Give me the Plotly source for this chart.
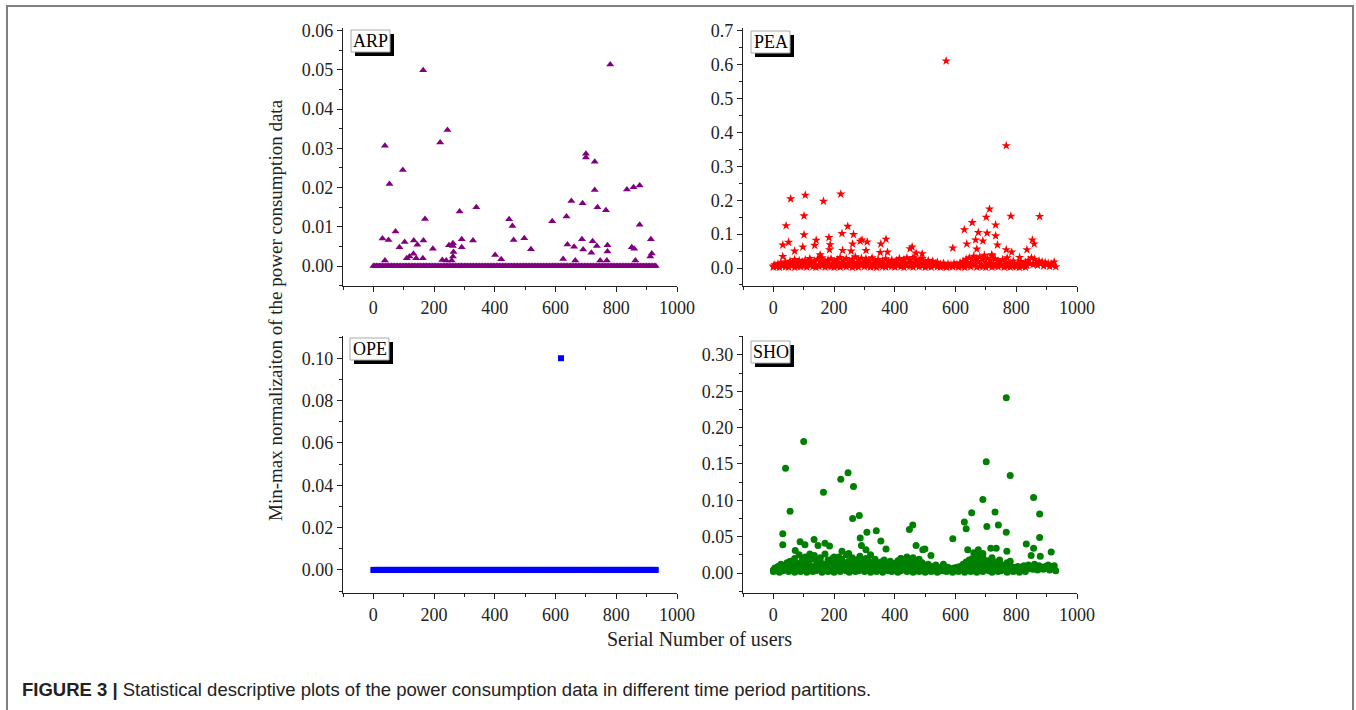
import plotly.graph_objects as go

W, H = 1356, 710

# ---------------- DATA ----------------
# sampled user serial numbers for the dense near-zero band
users = list(range(0, 931, 5))

# ARP (triangles) - dense band at zero + outliers
arp_band = [0, 0, 0, 0, 0, 0, 0, 0, 0, 0, 0, 0, 0, 0, 0, 0, 0, 0, 0, 0,
            0, 0, 0, 0, 0, 0, 0, 0, 0, 0, 0, 0, 0, 0, 0, 0, 0, 0, 0, 0,
            0, 0, 0, 0, 0, 0, 0, 0, 0, 0, 0, 0, 0, 0, 0, 0, 0, 0, 0, 0,
            0, 0, 0, 0, 0, 0, 0, 0, 0, 0, 0, 0, 0, 0, 0, 0, 0, 0, 0, 0,
            0, 0, 0, 0, 0, 0, 0, 0, 0, 0, 0, 0, 0, 0, 0, 0, 0, 0, 0, 0,
            0, 0, 0, 0, 0, 0, 0, 0, 0, 0, 0, 0, 0, 0, 0, 0, 0, 0, 0, 0,
            0, 0, 0, 0, 0, 0, 0, 0, 0, 0, 0, 0, 0, 0, 0, 0, 0, 0, 0, 0,
            0, 0, 0, 0, 0, 0, 0, 0, 0, 0, 0, 0, 0, 0, 0, 0, 0, 0, 0, 0,
            0, 0, 0, 0, 0, 0, 0, 0, 0, 0, 0, 0, 0, 0, 0, 0, 0, 0, 0, 0,
            0, 0, 0, 0, 0, 0, 0]
arp_x = [38, 53, 97, 30, 50, 73, 86, 103, 38, 164, 170, 165, 133, 145, 132, 110, 119, 141,
         163, 196, 220, 244, 284, 291, 291, 249, 262, 262, 264, 262, 258, 227, 240, 339, 328,
         401, 421, 447, 458, 462, 497, 519, 589, 625, 636, 639, 652, 661, 665, 689, 687, 691,
         700, 700, 729, 729, 722, 718, 736, 738, 766, 771, 771, 780, 747, 769, 835, 857, 877,
         877, 851, 859, 863, 914, 917, 912]
arp_y = [0.0307, 0.0209, 0.0245, 0.0070, 0.0066, 0.0088, 0.0048, 0.0061, 0.0014, 0.0499,
         0.0120, 0.0065, 0.0065, 0.0054, 0.0031, 0.0020, 0.0024, 0.0020, 0.0020, 0.0044,
         0.0315, 0.0347, 0.0139, 0.0068, 0.0048, 0.0053, 0.0058, 0.0051, 0.0036, 0.0024,
         0.0014, 0.0015, 0.0014, 0.0150, 0.0065, 0.0028, 0.0017, 0.0119, 0.0102, 0.0066,
         0.0071, 0.0043, 0.0114, 0.0018, 0.0126, 0.0055, 0.0166, 0.0049, 0.0014, 0.0160,
         0.0068, 0.0042, 0.0286, 0.0277, 0.0266, 0.0194, 0.0063, 0.0034, 0.0051, 0.0150,
         0.0142, 0.0053, 0.0037, 0.0514, 0.0014, 0.0014, 0.0195, 0.0201, 0.0205, 0.0105,
         0.0048, 0.0044, 0.0014, 0.0068, 0.0032, 0.0024]

# PEA (stars)
pea_band = [0.006, 0.010, 0.004, 0.012, 0.008, 0.015, 0.006, 0.011, 0.018, 0.009,
            0.012, 0.020, 0.007, 0.016, 0.025, 0.010, 0.014, 0.022, 0.008, 0.017,
            0.013, 0.024, 0.009, 0.019, 0.028, 0.011, 0.015, 0.021, 0.007, 0.026,
            0.010, 0.018, 0.030, 0.012, 0.020, 0.008, 0.024, 0.014, 0.027, 0.011,
            0.019, 0.009, 0.025, 0.016, 0.031, 0.012, 0.022, 0.008, 0.028, 0.015,
            0.020, 0.011, 0.026, 0.017, 0.033, 0.010, 0.024, 0.014, 0.029, 0.018,
            0.012, 0.027, 0.016, 0.022, 0.009, 0.030, 0.014, 0.019, 0.010, 0.025,
            0.015, 0.008, 0.021, 0.012, 0.027, 0.010, 0.018, 0.013, 0.024, 0.009,
            0.016, 0.022, 0.011, 0.028, 0.014, 0.019, 0.025, 0.012, 0.030, 0.017,
            0.023, 0.013, 0.031, 0.018, 0.026, 0.011, 0.021, 0.015, 0.028, 0.010,
            0.018, 0.012, 0.022, 0.009, 0.015, 0.020, 0.008, 0.013, 0.017, 0.007,
            0.011, 0.006, 0.014, 0.009, 0.005, 0.012, 0.007, 0.010, 0.006, 0.013,
            0.008, 0.011, 0.006, 0.015, 0.009, 0.020, 0.012, 0.026, 0.016, 0.030,
            0.014, 0.024, 0.035, 0.012, 0.028, 0.019, 0.033, 0.010, 0.025, 0.038,
            0.015, 0.029, 0.011, 0.022, 0.036, 0.013, 0.027, 0.009, 0.020, 0.016,
            0.012, 0.025, 0.008, 0.018, 0.030, 0.010, 0.015, 0.006, 0.021, 0.011,
            0.007, 0.014, 0.009, 0.019, 0.005, 0.012, 0.017, 0.008, 0.023, 0.013,
            0.030, 0.010, 0.026, 0.015, 0.008, 0.021, 0.012, 0.018, 0.006, 0.016,
            0.009, 0.014, 0.005, 0.012, 0.008, 0.018, 0.004]
pea_low = [0.003, 0.005, 0.002, 0.006, 0.004, 0.003, 0.007, 0.002, 0.005, 0.004,
           0.006, 0.003, 0.008, 0.004, 0.002, 0.005, 0.007, 0.003, 0.006, 0.004,
           0.002, 0.005, 0.003, 0.007, 0.004, 0.006, 0.002, 0.005, 0.003, 0.008,
           0.004, 0.006, 0.003, 0.005, 0.002, 0.007, 0.004, 0.003, 0.006, 0.005,
           0.003, 0.007, 0.004, 0.002, 0.006, 0.005, 0.003, 0.008, 0.004, 0.006,
           0.002, 0.005, 0.003, 0.007, 0.004, 0.003, 0.006, 0.002, 0.005, 0.004,
           0.007, 0.003, 0.005, 0.002, 0.006, 0.004, 0.008, 0.003, 0.005, 0.004,
           0.002, 0.006, 0.003, 0.005, 0.004, 0.007, 0.002, 0.005, 0.003, 0.006,
           0.004, 0.002, 0.005, 0.003]
pea_x = [569, 767, 57, 105, 165, 222, 42, 101, 101, 31, 31, 50, 70, 97, 141, 136, 154, 183,
         187, 185, 226, 228, 245, 264, 261, 256, 286, 292, 309, 305, 354, 352, 371, 376, 450,
         457, 470, 490, 591, 629, 655, 637, 675, 690, 666, 670, 712, 701, 704, 732, 732, 738,
         782, 767, 785, 877, 853, 859, 835, 811, 719]
pea_y = [0.611, 0.361, 0.204, 0.215, 0.197, 0.218, 0.125, 0.154, 0.098, 0.068, 0.034, 0.076,
         0.050, 0.062, 0.082, 0.067, 0.039, 0.090, 0.069, 0.054, 0.102, 0.052, 0.123, 0.099,
         0.071, 0.050, 0.079, 0.083, 0.077, 0.052, 0.071, 0.046, 0.085, 0.047, 0.057, 0.062,
         0.044, 0.042, 0.059, 0.113, 0.134, 0.071, 0.105, 0.080, 0.083, 0.056, 0.174, 0.150,
         0.103, 0.127, 0.095, 0.068, 0.153, 0.054, 0.047, 0.152, 0.083, 0.071, 0.054, 0.031,
         0.039]

# OPE (squares)
ope_band = [0, 0, 0, 0, 0, 0, 0, 0, 0, 0, 0, 0, 0, 0, 0, 0, 0, 0, 0, 0,
            0, 0, 0, 0, 0, 0, 0, 0, 0, 0, 0, 0, 0, 0, 0, 0, 0, 0, 0, 0,
            0, 0, 0, 0, 0, 0, 0, 0, 0, 0, 0, 0, 0, 0, 0, 0, 0, 0, 0, 0,
            0, 0, 0, 0, 0, 0, 0, 0, 0, 0, 0, 0, 0, 0, 0, 0, 0, 0, 0, 0,
            0, 0, 0, 0, 0, 0, 0, 0, 0, 0, 0, 0, 0, 0, 0, 0, 0, 0, 0, 0,
            0, 0, 0, 0, 0, 0, 0, 0, 0, 0, 0, 0, 0, 0, 0, 0, 0, 0, 0, 0,
            0, 0, 0, 0, 0, 0, 0, 0, 0, 0, 0, 0, 0, 0, 0, 0, 0, 0, 0, 0,
            0, 0, 0, 0, 0, 0, 0, 0, 0, 0, 0, 0, 0, 0, 0, 0, 0, 0, 0, 0,
            0, 0, 0, 0, 0, 0, 0, 0, 0, 0, 0, 0, 0, 0, 0, 0, 0, 0, 0, 0,
            0, 0, 0, 0, 0, 0, 0]
ope_x = [618]
ope_y = [0.100]

# SHO (circles)
sho_band = [0.004, 0.007, 0.003, 0.009, 0.005, 0.012, 0.006, 0.010, 0.004, 0.014,
            0.008, 0.016, 0.005, 0.011, 0.020, 0.007, 0.013, 0.025, 0.009, 0.018,
            0.012, 0.022, 0.006, 0.015, 0.010, 0.019, 0.008, 0.024, 0.011, 0.017,
            0.007, 0.021, 0.013, 0.009, 0.026, 0.012, 0.018, 0.006, 0.015, 0.020,
            0.010, 0.016, 0.008, 0.022, 0.012, 0.019, 0.007, 0.014, 0.025, 0.011,
            0.017, 0.009, 0.021, 0.013, 0.008, 0.018, 0.011, 0.023, 0.007, 0.015,
            0.012, 0.020, 0.008, 0.016, 0.010, 0.014, 0.006, 0.019, 0.009, 0.013,
            0.007, 0.015, 0.011, 0.018, 0.006, 0.012, 0.009, 0.016, 0.005, 0.010,
            0.013, 0.008, 0.017, 0.011, 0.020, 0.007, 0.015, 0.010, 0.022, 0.012,
            0.018, 0.009, 0.021, 0.013, 0.016, 0.008, 0.019, 0.011, 0.014, 0.007,
            0.010, 0.005, 0.012, 0.008, 0.004, 0.009, 0.006, 0.011, 0.005, 0.008,
            0.004, 0.007, 0.003, 0.006, 0.005, 0.008, 0.004, 0.006, 0.003, 0.007,
            0.005, 0.008, 0.004, 0.009, 0.006, 0.012, 0.008, 0.015, 0.010, 0.018,
            0.012, 0.020, 0.009, 0.016, 0.024, 0.011, 0.019, 0.008, 0.022, 0.014,
            0.010, 0.017, 0.007, 0.013, 0.021, 0.009, 0.015, 0.006, 0.012, 0.018,
            0.008, 0.011, 0.005, 0.009, 0.014, 0.006, 0.010, 0.004, 0.008, 0.006,
            0.005, 0.009, 0.004, 0.008, 0.006, 0.010, 0.005, 0.007, 0.011, 0.006,
            0.009, 0.005, 0.012, 0.007, 0.004, 0.010, 0.006, 0.008, 0.005, 0.009,
            0.007, 0.011, 0.004, 0.009, 0.006, 0.010, 0.003]
sho_low = [0.002, 0.004, 0.001, 0.003, 0.005, 0.002, 0.004, 0.001, 0.003, 0.002,
           0.005, 0.001, 0.004, 0.002, 0.003, 0.005, 0.001, 0.004, 0.002, 0.003,
           0.001, 0.004, 0.002, 0.005, 0.003, 0.001, 0.004, 0.002, 0.003, 0.005,
           0.002, 0.004, 0.001, 0.003, 0.002, 0.005, 0.001, 0.004, 0.003, 0.002,
           0.004, 0.001, 0.003, 0.005, 0.002, 0.004, 0.001, 0.003, 0.002, 0.004,
           0.001, 0.003, 0.002, 0.004, 0.001, 0.003, 0.005, 0.002, 0.004, 0.001,
           0.003, 0.002, 0.005, 0.001, 0.004, 0.002, 0.003, 0.001, 0.004, 0.002,
           0.005, 0.003, 0.001, 0.004, 0.002, 0.003, 0.005, 0.001, 0.004, 0.002,
           0.003, 0.001, 0.004, 0.002]
sho_x = [767, 100, 40, 55, 31, 31, 165, 222, 246, 264, 261, 283, 286, 290, 308, 305, 339,
         354, 371, 72, 88, 104, 134, 147, 170, 185, 226, 248, 448, 459, 470, 492, 499, 519,
         591, 629, 635, 653, 640, 675, 690, 701, 703, 730, 741, 767, 769, 780, 780, 716, 734,
         833, 857, 857, 849, 877, 877, 879, 915, 120, 200, 320, 420, 560, 660, 690]
sho_y = [0.241, 0.181, 0.144, 0.085, 0.054, 0.039, 0.111, 0.129, 0.138, 0.119, 0.075, 0.079,
         0.048, 0.038, 0.056, 0.032, 0.058, 0.044, 0.033, 0.031, 0.043, 0.039, 0.046, 0.038,
         0.041, 0.037, 0.030, 0.027, 0.060, 0.066, 0.038, 0.032, 0.033, 0.024, 0.047, 0.070,
         0.061, 0.083, 0.032, 0.032, 0.101, 0.153, 0.064, 0.084, 0.066, 0.056, 0.030, 0.134,
         0.016, 0.034, 0.034, 0.040, 0.104, 0.034, 0.024, 0.081, 0.049, 0.023, 0.029, 0.026,
         0.022, 0.025, 0.020, 0.012, 0.028, 0.027]

panel_labels = ["ARP", "PEA", "OPE", "SHO"]
y_title = "Min-max normalizaiton of the power consumption data"
x_title = "Serial Number of users"
caption_bold = "FIGURE 3 |"
caption_text = "Statistical descriptive plots of the power consumption data in different time period partitions."

# ---------------- LAYOUT HELPERS ----------------
def fx(p):
    return p / W

def fy(p):
    return 1 - p / H

SERIF = "Liberation Serif, Times New Roman, serif"
left_dom = [fx(343), fx(677)]
right_dom = [fx(743), fx(1077)]
top_dom = [fy(286), fy(28)]
bot_dom = [fy(593), fy(336)]

fig = go.Figure()

def add(xs, ys, axn, symbol, color, size):
    fig.add_trace(go.Scatter(
        x=xs, y=ys, mode="markers", xaxis="x" + axn, yaxis="y" + axn,
        marker=dict(symbol=symbol, color=color, size=size, line=dict(width=0)),
        showlegend=False, hoverinfo="x+y"))

users_half = users[::2]
add(users, arp_band, "", "triangle-up", "#800080", 7)
add(arp_x, arp_y, "", "triangle-up", "#800080", 7)
add(users_half, pea_low, "2", "star", "#ff0000", 7)
add(users, pea_band, "2", "star", "#ff0000", 7)
add(pea_x, pea_y, "2", "star", "#ff0000", 7)
add(users, ope_band, "3", "square", "#0000ff", 6)
add(ope_x, ope_y, "3", "square", "#0000ff", 6)
add(users_half, sho_low, "4", "circle", "#008000", 7)
add(users, sho_band, "4", "circle", "#008000", 7)
add(sho_x, sho_y, "4", "circle", "#008000", 7)

tickfont = dict(family=SERIF, size=18, color="#222")

def xax(dom, anchor):
    return dict(domain=dom, anchor=anchor, range=[-100, 1000], dtick=200, tick0=0,
                showline=True, linecolor="#222", linewidth=1.2, ticks="outside",
                ticklen=5, tickwidth=1.2, tickcolor="#222", showgrid=False, zeroline=False,
                tickfont=tickfont, automargin=False,
                minor=dict(ticks="outside", ticklen=3, dtick=100, tick0=0, tickcolor="#222"))

def yax(dom, anchor, rng, dtick, fmt):
    return dict(domain=dom, anchor=anchor, range=rng, dtick=dtick, tick0=0,
                tickformat=fmt, showline=True, linecolor="#222", linewidth=1.2,
                ticks="outside", ticklen=5, tickwidth=1.2, tickcolor="#222",
                showgrid=False, zeroline=False, tickfont=tickfont, automargin=False,
                minor=dict(ticks="outside", ticklen=3, dtick=dtick / 2, tick0=0,
                           tickcolor="#222"))

fig.update_layout(
    width=W, height=H, autosize=False,
    margin=dict(l=0, r=0, t=0, b=0, pad=0, autoexpand=False),
    paper_bgcolor="white", plot_bgcolor="white",
    xaxis=xax(left_dom, "y"), yaxis=yax(top_dom, "x", [-0.0051, 0.0607], 0.01, ".2f"),
    xaxis2=xax(right_dom, "y2"), yaxis2=yax(top_dom, "x2", [-0.053, 0.708], 0.1, ".1f"),
    xaxis3=xax(left_dom, "y3"), yaxis3=yax(bot_dom, "x3", [-0.0109, 0.1105], 0.02, ".2f"),
    xaxis4=xax(right_dom, "y4"), yaxis4=yax(bot_dom, "x4", [-0.0275, 0.326], 0.05, ".2f"),
)

shapes = []
annotations = []
# outer frame
shapes.append(dict(type="rect", xref="paper", yref="paper", x0=fx(7), x1=fx(1353),
                   y0=fy(720), y1=fy(6), line=dict(color="#808080", width=2),
                   fillcolor="rgba(0,0,0,0)", layer="below"))

# panel label boxes (left px, top px)
box_pos = [(351, 30), (751, 31), (350, 338), (751, 341)]
for (bx, by), lab in zip(box_pos, panel_labels):
    bw, bh = 39, 22
    shapes.append(dict(type="rect", xref="paper", yref="paper",
                       x0=fx(bx + 4), x1=fx(bx + bw + 4), y0=fy(by + bh + 4), y1=fy(by + 4),
                       fillcolor="black", line=dict(width=0), layer="above"))
    shapes.append(dict(type="rect", xref="paper", yref="paper",
                       x0=fx(bx), x1=fx(bx + bw), y0=fy(by + bh), y1=fy(by),
                       fillcolor="white", line=dict(color="#aaaaaa", width=1), layer="above"))
    annotations.append(dict(xref="paper", yref="paper", x=fx(bx + bw / 2), y=fy(by + bh / 2),
                            text=lab, showarrow=False, xanchor="center", yanchor="middle",
                            font=dict(family=SERIF, size=18, color="black")))

annotations.append(dict(xref="paper", yref="paper", x=fx(275), y=fy(310), text=y_title,
                        textangle=-90, showarrow=False, xanchor="center", yanchor="middle",
                        font=dict(family=SERIF, size=19, color="#222")))
annotations.append(dict(xref="paper", yref="paper", x=fx(700), y=fy(639), text=x_title,
                        showarrow=False, xanchor="center", yanchor="middle",
                        font=dict(family=SERIF, size=20, color="#222")))
annotations.append(dict(xref="paper", yref="paper", x=fx(20), y=fy(689),
                        text="<b>" + caption_bold + "</b> " + caption_text,
                        showarrow=False, xanchor="left", yanchor="middle",
                        font=dict(family="Liberation Sans, Arial, sans-serif", size=18.5,
                                  color="#222")))

fig.update_layout(shapes=shapes, annotations=annotations)
fig.write_html("out.html")
